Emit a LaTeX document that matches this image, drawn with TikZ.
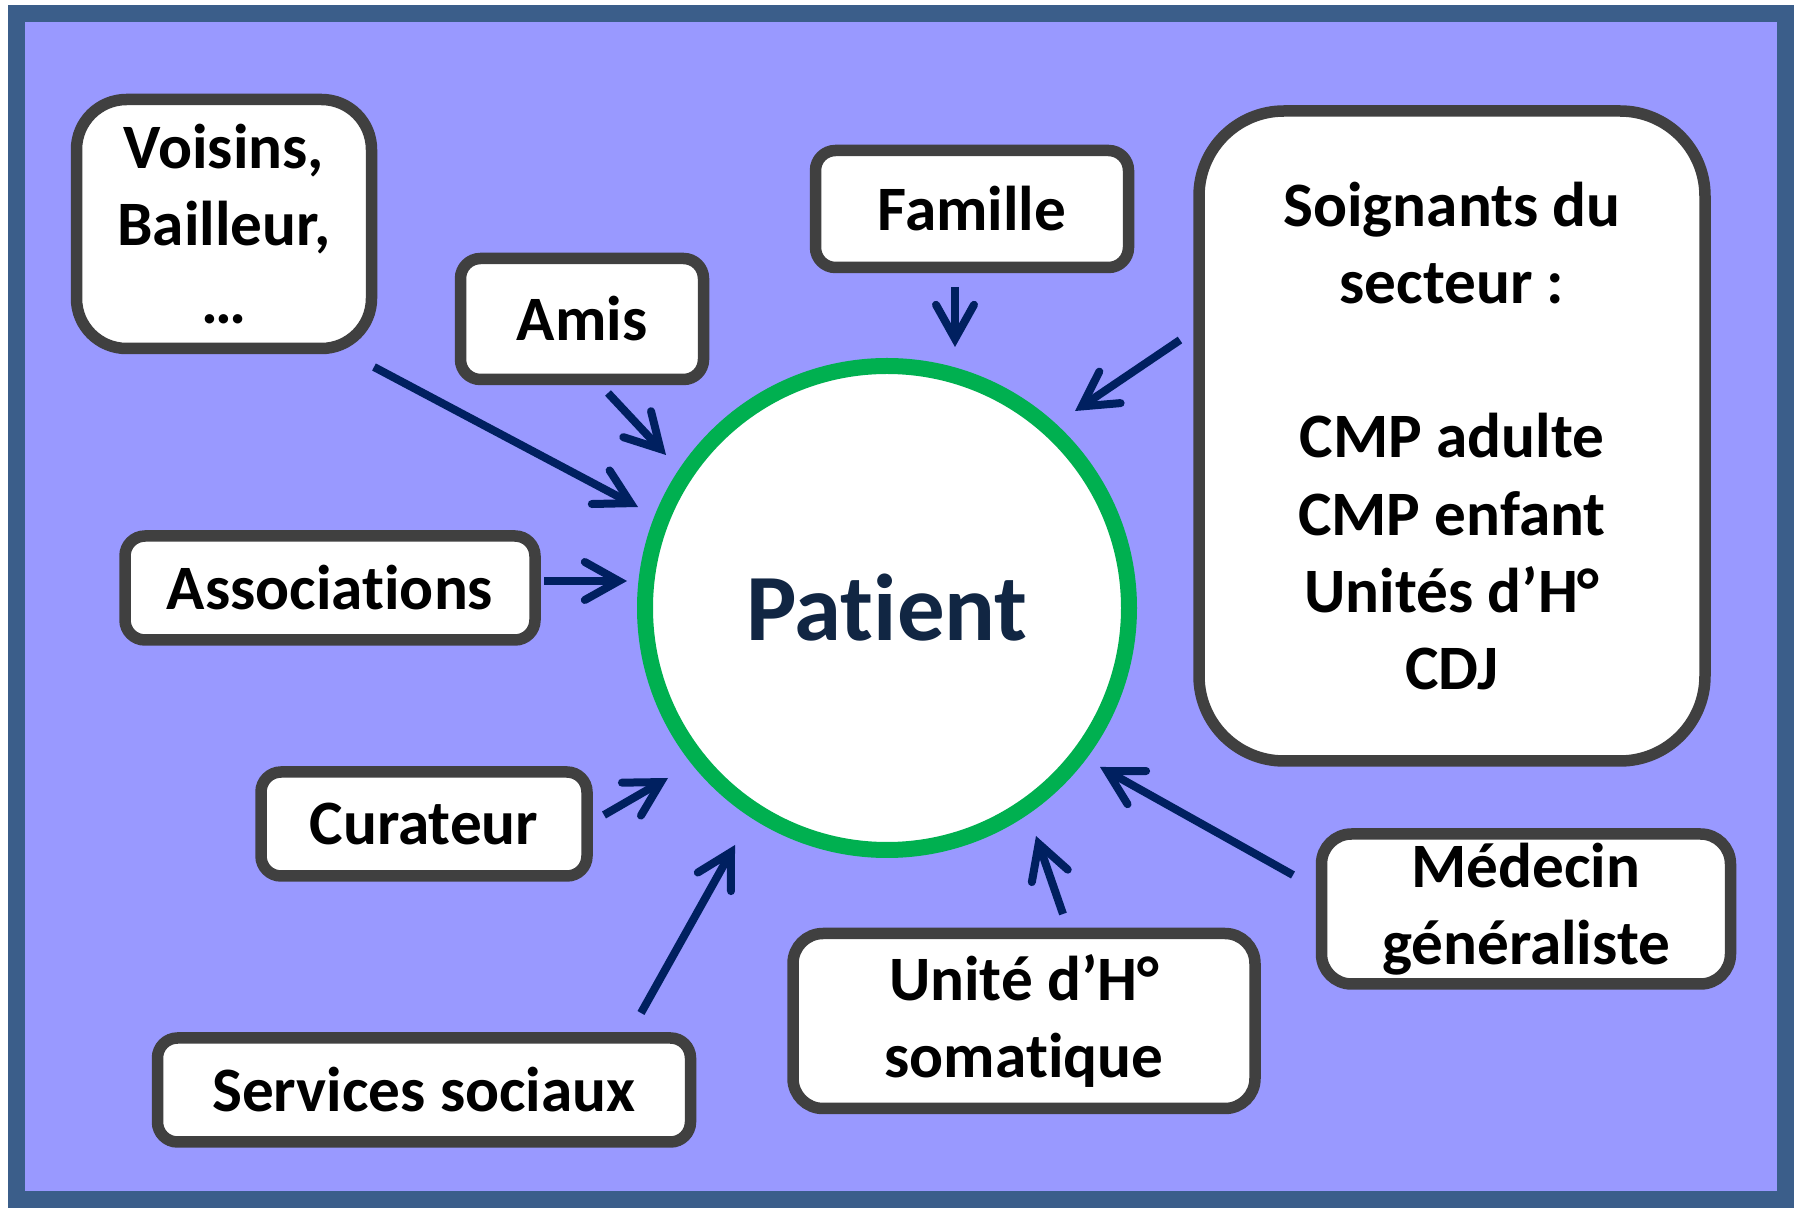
\documentclass[tikz,border=0pt]{standalone}
\usepackage{fontspec}
\setmainfont{Carlito}[Ligatures=NoCommon]
\usetikzlibrary{arrows.meta}
\definecolor{frameblue}{RGB}{59,94,138}
\definecolor{bgviolet}{RGB}{153,153,255}
\definecolor{boxgray}{RGB}{64,64,64}
\definecolor{patgreen}{RGB}{0,176,80}
\definecolor{arrnavy}{RGB}{0,32,96}
\definecolor{patnavy}{RGB}{17,38,67}
\tikzset{
  box/.style={
    draw=boxgray, fill=white, rectangle, rounded corners=2mm, line width=1.15mm,
    inner sep=0mm, align=center, font=\fontsize{18}{22}\selectfont\bfseries
  },
  pat/.style={
    draw=patgreen, fill=white, circle, minimum size=48.4mm, line width=1.6mm,
    inner sep=0mm, text=patnavy, font=\fontsize{27}{32}\selectfont\bfseries
  },
  arr/.style={
    draw=arrnavy, line width=0.8mm,
    -{Straight Barb[length=3.4mm,width=3.8mm,line cap=round]}
  }
}

\begin{document}
\begin{tikzpicture}
   \useasboundingbox (0,0) rectangle (18,-12.1);
   \draw[frameblue, fill=bgviolet, line width=1.7mm] (0.16,-0.14) rectangle (17.85,-12);

   \node[pat] (patient) at (8.87,-6.08) {Patient};

   \node[box, rounded corners=5mm, minimum width=2.95cm, minimum height=2.49cm] (voisins) at (2.24,-2.24) {Voisins,\\Bailleur,\\…};
   \node[box, minimum width=2.43cm, minimum height=1.21cm] (amis) at (5.82,-3.19) {Amis};
   \node[box, minimum width=3.13cm, minimum height=1.17cm] (famille) at (9.72,-2.09) {Famille};
   \node[box, rounded corners=8.5mm, minimum width=5.06cm, minimum height=6.5cm] (soignants) at (14.52,-4.36)
      {Soignants du\\secteur :\\~\\CMP adulte\\CMP enfant\\Unités d’H°\\CDJ};
   \node[box, minimum width=4.1cm, minimum height=1.04cm] (assoc) at (3.3,-5.88) {Associations};
   \node[box, minimum width=3.26cm, minimum height=1.04cm] (curateur) at (4.24,-8.24) {Curateur};
   \node[box, minimum width=5.33cm, minimum height=1.04cm] (services) at (4.24,-10.9) {Services sociaux};
   \node[box, rounded corners=3mm, minimum width=4.62cm, minimum height=1.75cm] (unite) at (10.24,-10.21) {Unité d’H°\\somatique};
   \node[box, rounded corners=3mm, minimum width=4.09cm, minimum height=1.5cm] (medecin) at (15.26,-9.09) {Médecin\\généraliste};

   % arrow ends, they stop short of the boxes and of the circle
   \coordinate (voisins-out) at (3.74,-3.67);   \coordinate (voisins-in) at (6.38,-5.07);
   \coordinate (amis-out) at (6.08,-3.93);      \coordinate (amis-in) at (6.66,-4.55);
   \coordinate (famille-out) at (9.55,-2.87);   \coordinate (famille-in) at (9.55,-3.47);
   \coordinate (soignants-out) at (11.8,-3.4);  \coordinate (soignants-in) at (10.75,-4.11);
   \coordinate (assoc-out) at (5.44,-5.81);     \coordinate (assoc-in) at (6.27,-5.81);
   \coordinate (curateur-out) at (6.04,-8.15);  \coordinate (curateur-in) at (6.68,-7.78);
   \coordinate (services-out) at (6.41,-10.13); \coordinate (services-in) at (7.35,-8.45);
   \coordinate (unite-out) at (10.63,-9.14);    \coordinate (unite-in) at (10.36,-8.36);
   \coordinate (medecin-out) at (12.93,-8.75);  \coordinate (medecin-in) at (11,-7.67);

   \draw[arr] (voisins-out) -- (voisins-in);
   \draw[arr] (amis-out) -- (amis-in);
   \draw[arr] (famille-out) -- (famille-in);
   \draw[arr] (soignants-out) -- (soignants-in);
   \draw[arr] (assoc-out) -- (assoc-in);
   \draw[arr] (curateur-out) -- (curateur-in);
   \draw[arr] (services-out) -- (services-in);
   \draw[arr] (unite-out) -- (unite-in);
   \draw[arr] (medecin-out) -- (medecin-in);
\end{tikzpicture}
\end{document}
